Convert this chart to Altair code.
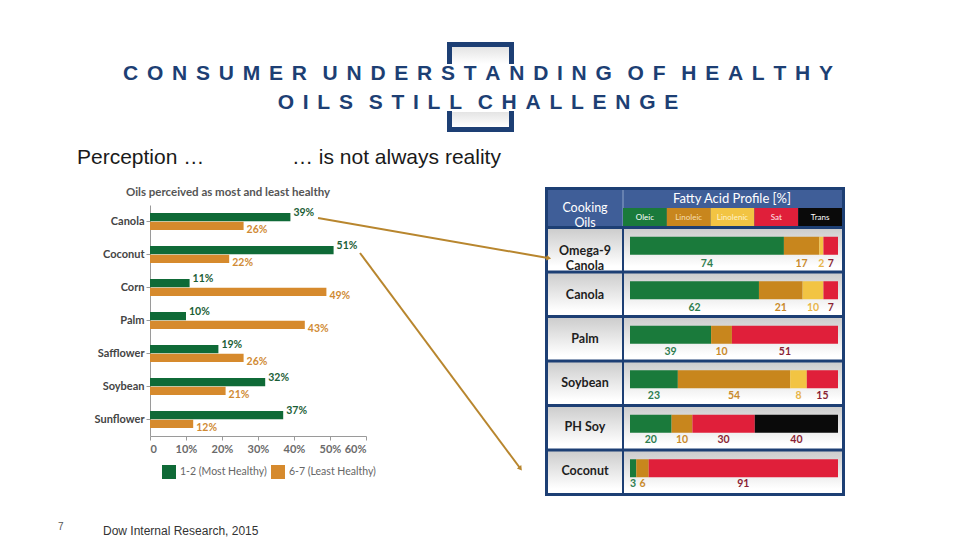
import altair as alt
import pandas as pd

# ---------------- text ----------------
title_line1 = "CONSUMER UNDERSTANDING OF HEALTHY"
title_line2 = "OILS STILL CHALLENGE"
sub_left = "Perception \u2026"
sub_right = "\u2026 is not always reality"
left_title = "Oils perceived as most and least healthy"
footnote = "Dow Internal Research, 2015"
page_no = "7"
header_oils = "Cooking\nOils"
header_profile = "Fatty Acid Profile [%]"

# ---------------- left chart data ----------------
oils = ["Canola", "Coconut", "Corn", "Palm", "Safflower", "Soybean", "Sunflower"]
most_healthy = [39, 51, 11, 10, 19, 32, 37]
least_healthy = [26, 22, 49, 43, 26, 21, 12]
series = ["1-2 (Most Healthy)", "6-7 (Least Healthy)"]
x_ticks = [0, 10, 20, 30, 40, 50, 60]

# ---------------- right chart data ----------------
profile_oils = ["Omega-9\nCanola", "Canola", "Palm", "Soybean", "PH Soy", "Coconut"]
acids = ["Oleic", "Linoleic", "Linolenic", "Sat", "Trans"]
oleic = [74, 62, 39, 23, 20, 3]
linoleic = [17, 21, 10, 54, 10, 6]
linolenic = [2, 10, 0, 8, 0, 0]
sat = [7, 7, 51, 15, 30, 91]
trans = [0, 0, 0, 0, 40, 0]

# ---------------- styles ----------------
NAVY = "#1d3f74"
HEADER_BLUE = "#3f5e98"
ARROW = "#b8862e"
left_colors = ["#0f6a37", "#d68a2d"]
left_text_colors = ["#1b5e36", "#d08a33"]
acid_colors = ["#1a7a3b", "#c8861d", "#f2c443", "#e01f3a", "#0a0a0a"]
acid_text_colors = ["#2e7d4f", "#c98a2b", "#e8b54a", "#8b1f34", "#8b1f34"]
acid_cell_text = ["#ffffff", "#f6dfb0", "#fff3c8", "#ffe8ea", "#ffffff"]


def spaced(s):
    letter = "\u2005\u2006"
    word = "\u2002\u2005"
    words = s.split(" ")
    return word.join(letter.join(list(w)) for w in words)


# ---------------- tables ----------------
left_rows = []
for o, m, l in zip(oils, most_healthy, least_healthy):
    left_rows.append({"oil": o, "series": series[0], "value": m, "label": f"{m}%"})
    left_rows.append({"oil": o, "series": series[1], "value": l, "label": f"{l}%"})
left_df = pd.DataFrame(left_rows)

prof_rows = []
for i, o in enumerate(profile_oils):
    for k, (a, arr) in enumerate(zip(acids, [oleic, linoleic, linolenic, sat, trans])):
        prof_rows.append({"oil": o, "acid": a, "order": k, "value": arr[i]})
prof_df = pd.DataFrame(prof_rows)
rows_df = pd.DataFrame({"oil": profile_oils})
acid_df = pd.DataFrame({"acid": acids})
one = pd.DataFrame({"k": [0]})

# ---------------- scales ----------------
left_x = alt.Scale(domain=[0, 60], range=[150, 366], nice=False)
left_y = alt.Scale(domain=oils, range=[205, 436], paddingInner=0.48, paddingOuter=0.24)
left_yoff = alt.Scale(domain=series, paddingInner=0.06, paddingOuter=0)
right_x = alt.Scale(domain=[0, 100], range=[630, 838], nice=False)
right_y = alt.Scale(domain=profile_oils, range=[229, 493], paddingInner=0.067, paddingOuter=0)
cell_x = alt.Scale(domain=acids, range=[623, 842], paddingInner=0, paddingOuter=0)

gray_grad = alt.Gradient(
    gradient="linear",
    stops=[alt.GradientStop(color="#cdcdcd", offset=0),
           alt.GradientStop(color="#ffffff", offset=0.9)],
    x1=0, x2=0, y1=0, y2=1,
)
light_grad = alt.Gradient(
    gradient="linear",
    stops=[alt.GradientStop(color="#e4e4e4", offset=0),
           alt.GradientStop(color="#ffffff", offset=1)],
    x1=0, x2=0, y1=0, y2=1,
)


def vtext(text, x, y, **kw):
    return alt.Chart(one).mark_text(text=text, **kw).encode(x=alt.value(x), y=alt.value(y))


def vrule(x, y, x2, y2, color, width):
    return alt.Chart(one).mark_rule(color=color, strokeWidth=width).encode(
        x=alt.value(x), y=alt.value(y), x2=alt.value(x2), y2=alt.value(y2))


def vrect(x, y, x2, y2, fill):
    return alt.Chart(one).mark_rect(fill=fill).encode(
        x=alt.value(x), y=alt.value(y), x2=alt.value(x2), y2=alt.value(y2))


layers = []

# bracket decoration
layers += [
    vrect(450, 47, 511, 64, light_grad),
    vrect(450, 112, 511, 127, light_grad),
    vrule(447, 44.5, 514, 44.5, NAVY, 5),
    vrule(449.5, 42, 449.5, 64, NAVY, 5),
    vrule(511.5, 42, 511.5, 64, NAVY, 5),
    vrule(447, 129.5, 514, 129.5, NAVY, 5),
    vrule(449.5, 111, 449.5, 132, NAVY, 5),
    vrule(511.5, 111, 511.5, 132, NAVY, 5),
]

# titles
layers += [
    vtext(spaced(title_line1), 478, 80, font="Liberation Sans", fontSize=21, fontWeight="bold",
          color=NAVY, align="center", baseline="alphabetic"),
    vtext(spaced(title_line2), 478, 109, font="Liberation Sans", fontSize=21, fontWeight="bold",
          color=NAVY, align="center", baseline="alphabetic"),
    vtext(sub_left, 77, 164, font="Liberation Sans", fontSize=21, color="#1a1a1a",
          align="left", baseline="alphabetic"),
    vtext(sub_right, 292, 164, font="Liberation Sans", fontSize=21, color="#1a1a1a",
          align="left", baseline="alphabetic"),
    vtext(footnote, 103, 535, font="Liberation Sans", fontSize=12, color="#333333",
          align="left", baseline="alphabetic"),
    vtext(page_no, 58, 530, font="Liberation Sans", fontSize=10, color="#555555",
          align="left", baseline="alphabetic"),
    vtext(left_title, 228, 193, font="Lato", fontSize=11.5, fontWeight="bold", color="#555555",
          align="center", baseline="middle"),
]

# left chart bars
left_bars = alt.Chart(left_df).mark_bar().encode(
    x=alt.X("value:Q", scale=left_x,
            axis=alt.Axis(values=x_ticks, orient="bottom", offset=-104, title=None, grid=False,
                          labelExpr="datum.value == 0 ? '0' : datum.value + '%'",
                          domainColor="#9a9a9a", tickColor="#9a9a9a", tickSize=4,
                          labelFont="Lato", labelFontSize=11, labelFontWeight="bold",
                          labelColor="#6a6a6a", labelPadding=3)),
    y=alt.Y("oil:N", scale=left_y,
            axis=alt.Axis(orient="left", offset=-150, title=None, domainColor="#9a9a9a",
                          tickColor="#9a9a9a", tickSize=4, labelFont="Lato", labelFontSize=11,
                          labelFontWeight="bold", labelColor="#444444", labelPadding=2)),
    yOffset=alt.YOffset("series:N", scale=left_yoff),
    color=alt.Color("series:N", scale=alt.Scale(domain=series, range=left_colors),
                    legend=alt.Legend(orient="none", legendX=162, legendY=465, direction="horizontal",
                                      title=None, symbolType="square", symbolSize=196,
                                      symbolStrokeWidth=0, labelFont="Lato", labelFontSize=10.5,
                                      labelColor="#666666", columnPadding=4, labelOffset=4)),
)
left_labels = alt.Chart(left_df).mark_text(
    align="left", dx=3, baseline="middle", font="Lato", fontWeight="bold", fontSize=10.5
).encode(
    x=alt.X("value:Q", scale=left_x, axis=None),
    y=alt.Y("oil:N", scale=left_y, axis=None),
    yOffset=alt.YOffset("series:N", scale=left_yoff),
    text="label:N",
    color=alt.Color("series:N", scale=alt.Scale(domain=series, range=left_text_colors), legend=None),
)
layers += [left_bars, left_labels]

# right chart frame and header
layers += [
    vrect(545, 187, 845, 496, NAVY),
    vrect(548, 190, 842, 226, HEADER_BLUE),
    vrule(623, 190, 623, 226, "#8fa4c8", 1),
]
cells = alt.Chart(acid_df).mark_rect().encode(
    x=alt.X("acid:N", scale=cell_x, axis=None),
    y=alt.value(208), y2=alt.value(226),
    color=alt.Color("acid:N", scale=alt.Scale(domain=acids, range=acid_colors), legend=None),
)
cell_text = alt.Chart(acid_df).mark_text(font="Lato", fontSize=8, baseline="middle").encode(
    x=alt.X("acid:N", scale=cell_x, axis=None),
    y=alt.value(217.5),
    text="acid:N",
    color=alt.Color("acid:N", scale=alt.Scale(domain=acids, range=acid_cell_text), legend=None),
)
layers += [
    cells, cell_text,
    vtext(header_oils, 585, 208, font="Lato", fontSize=12.5, color="#ffffff",
          align="center", baseline="middle", lineBreak="\n", lineHeight=15),
    vtext(header_profile, 732, 199, font="Lato", fontSize=13, color="#ffffff",
          align="center", baseline="middle"),
]

# rows
row_label_bg = alt.Chart(rows_df).mark_rect(fill=gray_grad).encode(
    y=alt.Y("oil:N", scale=right_y, axis=None), x=alt.value(548), x2=alt.value(622))
row_bar_bg = alt.Chart(rows_df).mark_rect(fill=gray_grad).encode(
    y=alt.Y("oil:N", scale=right_y, axis=None), x=alt.value(624), x2=alt.value(842))
row_labels = alt.Chart(rows_df).mark_text(
    font="Lato", fontSize=12.5, fontWeight="bold", color="#1e1e1e", align="center",
    baseline="middle", lineBreak="\n", lineHeight=15
).encode(y=alt.Y("oil:N", scale=right_y, axis=None), x=alt.value(585), text="oil:N")

stacked = alt.Chart(prof_df).transform_filter("datum.value > 0").transform_stack(
    stack="value", as_=["s0", "s1"], groupby=["oil"], sort=[alt.SortField("order")]
).transform_calculate(mid="(datum.s0 + datum.s1) / 2")

prof_bars = stacked.mark_bar(height=18, yOffset=-4).encode(
    x=alt.X("s0:Q", scale=right_x, axis=None), x2="s1:Q",
    y=alt.Y("oil:N", scale=right_y, axis=None),
    color=alt.Color("acid:N", scale=alt.Scale(domain=acids, range=acid_colors), legend=None),
)
prof_labels = stacked.mark_text(font="Lato", fontSize=10.5, fontWeight="bold", baseline="middle",
                                dy=13).encode(
    x=alt.X("mid:Q", scale=right_x, axis=None),
    y=alt.Y("oil:N", scale=right_y, axis=None),
    text="value:Q",
    color=alt.Color("acid:N", scale=alt.Scale(domain=acids, range=acid_text_colors), legend=None),
)
layers += [row_label_bg, row_bar_bg, row_labels, prof_bars, prof_labels]

# arrows
layers += [
    vrule(318, 218, 548, 258, ARROW, 2),
    vrule(360, 253, 520, 468, ARROW, 2),
    alt.Chart(one).mark_point(shape="triangle", filled=True, size=30, angle=100, color=ARROW,
                              opacity=1).encode(x=alt.value(548), y=alt.value(258)),
    alt.Chart(one).mark_point(shape="triangle", filled=True, size=30, angle=143, color=ARROW,
                              opacity=1).encode(x=alt.value(520), y=alt.value(468)),
]

chart = alt.layer(*layers).resolve_scale(
    x="independent", y="independent", color="independent", yOffset="independent"
).properties(
    width=960, height=540, autosize=alt.AutoSizeParams(type="none"), padding=0,
    background="#ffffff",
).configure_view(stroke=None)

chart.save("out.html", embed_options={"renderer": "svg", "actions": False})
